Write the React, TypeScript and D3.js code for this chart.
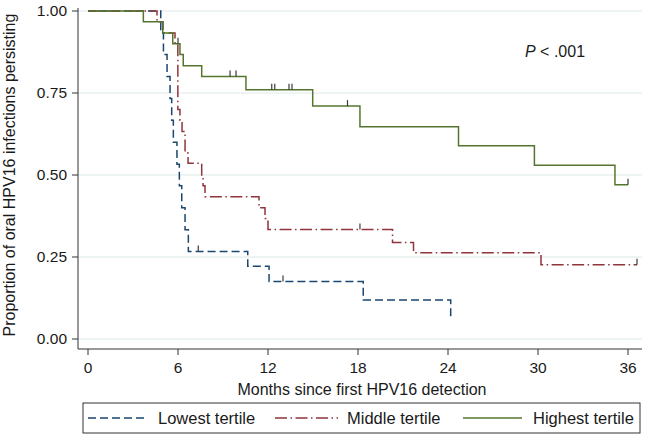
import React from "react";
import * as d3 from "d3";

const xTicks = [0, 6, 12, 18, 24, 30, 36];
const yTicks = [0, 0.25, 0.5, 0.75, 1];

const lowTimes = [0, 4.85, 5.03, 5.27, 5.47, 5.58, 5.69, 5.93, 6.09, 6.25, 6.47, 6.69, 10.65, 12.07, 18.35, 24.18];
const lowSurv = [1, 0.933, 0.867, 0.8, 0.733, 0.667, 0.6, 0.533, 0.467, 0.4, 0.333, 0.267, 0.222, 0.175, 0.119, 0.059];
const lowCensT = [7.35, 13.0];
const lowCensS = [0.267, 0.175];

const midTimes = [0, 4.6, 5.0, 5.8, 5.99, 6.13, 6.27, 6.47, 6.67, 7.58, 7.67, 7.8, 11.4, 11.8, 12.0, 20.3, 21.7, 30.2, 36.6];
const midSurv = [1, 0.967, 0.933, 0.9, 0.7, 0.667, 0.633, 0.567, 0.536, 0.5, 0.467, 0.434, 0.4, 0.367, 0.334, 0.294, 0.263, 0.226, 0.226];
const midCensT = [18.13, 36.6];
const midCensS = [0.334, 0.226];

const highTimes = [0, 3.69, 4.98, 5.65, 6.13, 6.35, 7.58, 10.53, 14.98, 18.13, 24.7, 29.76, 35.13, 36.0];
const highSurv = [1, 0.967, 0.933, 0.9, 0.867, 0.833, 0.8, 0.76, 0.71, 0.647, 0.589, 0.53, 0.47, 0.47];
const highCensT = [6.0, 9.47, 9.87, 12.25, 12.45, 13.4, 13.6, 17.3, 36.0];
const highCensS = [0.9, 0.8, 0.8, 0.76, 0.76, 0.76, 0.76, 0.71, 0.47];

const seriesNames = ["Lowest tertile", "Middle tertile", "Highest tertile"];

const FONT = "'Liberation Sans', Arial, Helvetica, sans-serif";

export default function App() {
  const x = d3.scaleLinear().domain([0, 36]).range([88, 628]);
  const y = d3.scaleLinear().domain([0, 1]).range([339, 11]);
  const line = d3
    .line<[number, number]>()
    .x((d) => x(d[0]))
    .y((d) => y(d[1]))
    .curve(d3.curveStepAfter);

  const series = [
    { t: lowTimes, s: lowSurv, ct: lowCensT, cs: lowCensS, color: "#1a476f", dash: "8,4" },
    { t: midTimes, s: midSurv, ct: midCensT, cs: midCensS, color: "#90353b", dash: "12,3.5,1.5,3.5" },
    { t: highTimes, s: highSurv, ct: highCensT, cs: highCensS, color: "#55752f", dash: "none" },
  ];

  const legendItems = [
    { x0: 88, x1: 147, tx: 158 },
    { x0: 275, x1: 338, tx: 347 },
    { x0: 463, x1: 522, tx: 533 },
  ];

  return (
    <svg
      width={650}
      height={435}
      style={{ position: "fixed", left: 0, top: 0, background: "#fff" }}
      fontFamily={FONT}
    >
      <rect x={0} y={0} width={650} height={435} fill="#fff" />
      {yTicks.map((v) => (
        <line key={"g" + v} x1={78} x2={642} y1={y(v)} y2={y(v)} stroke="#e8eff1" strokeWidth={1.5} />
      ))}
      {series.map((sr, i) => (
        <path
          key={"s" + i}
          d={line(sr.t.map((t, j) => [t, sr.s[j]] as [number, number])) || ""}
          fill="none"
          stroke={sr.color}
          strokeWidth={1.5}
          strokeDasharray={sr.dash}
        />
      ))}
      {series.map((sr, i) =>
        sr.ct.map((t, j) => (
          <line
            key={"c" + i + "-" + j}
            x1={x(t)}
            x2={x(t)}
            y1={y(sr.cs[j])}
            y2={y(sr.cs[j]) - 6}
            stroke="#3a3a3a"
            strokeWidth={1.2}
          />
        ))
      )}
      {/* axes */}
      <line x1={78} x2={78} y1={8} y2={349} stroke="#333" strokeWidth={1} />
      <line x1={78} x2={642} y1={349} y2={349} stroke="#333" strokeWidth={1} />
      {yTicks.map((v) => (
        <g key={"yt" + v}>
          <line x1={72} x2={78} y1={y(v)} y2={y(v)} stroke="#333" />
          <text x={67} y={y(v)} dy="0.35em" textAnchor="end" fontSize={15.5} fill="#1a1a1a">
            {v.toFixed(2)}
          </text>
        </g>
      ))}
      {xTicks.map((v) => (
        <g key={"xt" + v}>
          <line x1={x(v)} x2={x(v)} y1={349} y2={355} stroke="#333" />
          <text x={x(v)} y={368} dy="0.35em" textAnchor="middle" fontSize={15.5} fill="#1a1a1a">
            {v}
          </text>
        </g>
      ))}
      <text x={362} y={389} dy="0.35em" textAnchor="middle" fontSize={16} fill="#1a1a1a">
        Months since first HPV16 detection
      </text>
      <text
        transform={`translate(15,175) rotate(-90)`}
        textAnchor="middle"
        fontSize={16}
        fill="#1a1a1a"
      >
        Proportion of oral HPV16 infections persisting
      </text>
      <text x={525} y={51} dy="0.35em" fontSize={16} fill="#1a1a1a">
        <tspan fontStyle="italic">P</tspan>
        {" < .001"}
      </text>
      {/* legend */}
      <rect x={83} y={403} width={557} height={30} fill="#fff" stroke="#333" strokeWidth={1} />
      {legendItems.map((it, i) => (
        <g key={"l" + i}>
          <line
            x1={it.x0}
            x2={it.x1}
            y1={418}
            y2={418}
            stroke={series[i].color}
            strokeWidth={1.3}
            strokeDasharray={series[i].dash}
          />
          <text x={it.tx} y={418} dy="0.35em" fontSize={16.5} fill="#1a1a1a">
            {seriesNames[i]}
          </text>
        </g>
      ))}
    </svg>
  );
}
